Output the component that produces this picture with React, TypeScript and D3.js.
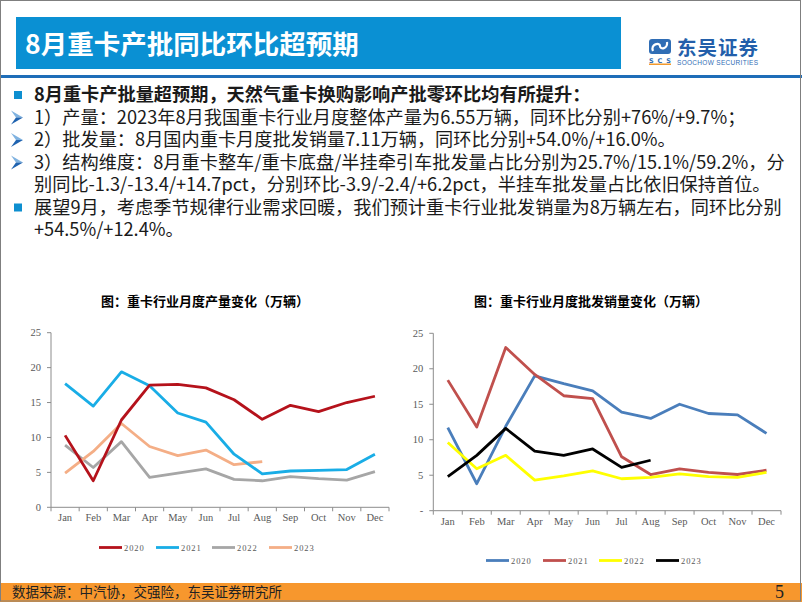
import React from "react";
import * as d3 from "d3";

const months = ["Jan", "Feb", "Mar", "Apr", "May", "Jun", "Jul", "Aug", "Sep", "Oct", "Nov", "Dec"];
const years = ["2020", "2021", "2022", "2023"];

// 重卡行业月度产量（万辆）
const prod2020 = [10.3, 3.8, 12.5, 17.5, 17.6, 17.1, 15.4, 12.6, 14.6, 13.7, 15.0, 15.9];
const prod2021 = [17.7, 14.5, 19.4, 17.4, 13.5, 12.2, 7.6, 4.8, 5.2, 5.3, 5.4, 7.6];
const prod2022 = [8.9, 5.7, 9.4, 4.3, 4.9, 5.5, 4.0, 3.8, 4.4, 4.1, 3.9, 5.1];
const prod2023 = [4.9, 8.0, 12.0, 8.7, 7.4, 8.2, 6.1, 6.55];

// 重卡行业月度批发销量（万辆）
const sales2020 = [11.7, 3.8, 11.9, 19.0, 17.9, 16.9, 13.9, 13.0, 15.0, 13.7, 13.5, 10.9];
const sales2021 = [18.4, 11.8, 23.0, 19.2, 16.2, 15.8, 7.6, 5.1, 5.9, 5.4, 5.1, 5.7];
const sales2022 = [9.6, 5.9, 7.8, 4.3, 4.9, 5.6, 4.5, 4.7, 5.2, 4.8, 4.7, 5.4];
const sales2023 = [4.8, 7.8, 11.6, 8.4, 7.8, 8.7, 6.1, 7.11];

const yTicks = [0, 5, 10, 15, 20, 25];
const prodTickLabels = ["0", "5", "10", "15", "20", "25"];
const salesTickLabels = ["-", "5", "10", "15", "20", "25"];

const prodColors = ["#B5121B", "#19ADE6", "#A6A6A6", "#F4AE86"];
const salesColors = ["#4A7EBB", "#C0504D", "#FFFF00", "#000000"];

const bodyLines = [
  { kind: "sq", text: "8月重卡产批量超预期，天然气重卡换购影响产批零环比均有所提升：", bold: true },
  { kind: "ar", text: "1）产量：2023年8月我国重卡行业月度整体产量为6.55万辆，同环比分别+76%/+9.7%；" },
  { kind: "ar", text: "2）批发量：8月国内重卡月度批发销量7.11万辆，同环比分别+54.0%/+16.0%。" },
  { kind: "ar", text: "3）结构维度：8月重卡整车/重卡底盘/半挂牵引车批发量占比分别为25.7%/15.1%/59.2%，分" },
  { kind: "", text: "别同比-1.3/-13.4/+14.7pct，分别环比-3.9/-2.4/+6.2pct，半挂车批发量占比依旧保持首位。" },
  { kind: "sq", text: "展望9月，考虑季节规律行业需求回暖，我们预计重卡行业批发销量为8万辆左右，同环比分别" },
  { kind: "", text: "+54.5%/+12.4%。" },
];

const serif = "'Liberation Serif', 'Times New Roman', serif";
const cjk = "'Noto Sans CJK SC', 'Noto Sans', sans-serif";

type ChartProps = {
  title: string;
  titleX: number;
  x0: number;
  x1: number;
  yBottom: number;
  yTop: number;
  series: number[][];
  colors: string[];
  tickLabels: string[];
  xLabelY: number;
  legendY: number;
  legendX: number[];
  order: number[];
};

function LineChart(p: ChartProps) {
  const x = d3.scaleBand<string>().domain(months).range([p.x0, p.x1]);
  const y = d3.scaleLinear().domain([0, 25]).range([p.yBottom, p.yTop]);
  const bw = x.bandwidth();
  const line = d3
    .line<number>()
    .x((_, i) => (x(months[i]) as number) + bw / 2)
    .y((d) => y(d));
  const axisColor = "#8C8C8C";
  const boundaries = d3.range(13).map((i) => p.x0 + i * bw);
  return (
    <g>
      <text x={p.titleX} y={306} textAnchor="middle" fontFamily={cjk} fontWeight="bold" fontSize={13} fill="#000">
        {p.title}
      </text>
      <line x1={p.x0} x2={p.x0} y1={y(25)} y2={y(0)} stroke={axisColor} strokeWidth={1} />
      {yTicks.map((t, i) => (
        <g key={t}>
          <line x1={p.x0 - 4} x2={p.x0} y1={y(t)} y2={y(t)} stroke={axisColor} />
          <text x={p.x0 - 10} y={y(t) + 3.5} textAnchor="end" fontFamily={serif} fontSize={10.5} fill="#595959">
            {p.tickLabels[i]}
          </text>
        </g>
      ))}
      <line x1={p.x0} x2={p.x1} y1={y(0)} y2={y(0)} stroke={axisColor} />
      {boundaries.map((b, i) => (
        <line key={i} x1={b} x2={b} y1={y(0)} y2={y(0) + 4} stroke={axisColor} />
      ))}
      {months.map((m) => (
        <text key={m} x={(x(m) as number) + bw / 2} y={p.xLabelY} textAnchor="middle" fontFamily={serif} fontSize={10.5} fill="#595959">
          {m}
        </text>
      ))}
      {p.order.map((si) => (
        <path key={si} d={line(p.series[si]) || ""} fill="none" stroke={p.colors[si]} strokeWidth={2.8} strokeLinejoin="round" />
      ))}
      {years.map((yr, i) => (
        <g key={yr}>
          <line x1={p.legendX[i]} x2={p.legendX[i] + 23} y1={p.legendY} y2={p.legendY} stroke={p.colors[i]} strokeWidth={2.8} />
          <text x={p.legendX[i] + 25} y={p.legendY + 3} fontFamily={serif} fontSize={8.5} letterSpacing={0.9} fill="#595959">
            {yr}
          </text>
        </g>
      ))}
    </g>
  );
}

function Arrow({ cy }: { cy: number }) {
  return (
    <g>
      <path d={`M11,${cy - 7} L23,${cy} L16,${cy} Z`} fill="#7FB2E0" />
      <path d={`M11,${cy + 7} L23,${cy} L16,${cy} Z`} fill="#1F63B0" />
    </g>
  );
}

export default function App() {
  const lineStart = 95;
  const lineGap = 22.5;
  return (
    <svg width={802} height={602} style={{ position: "absolute", left: 0, top: 0 }} xmlns="http://www.w3.org/2000/svg">
      <rect x={0} y={0} width={802} height={602} fill="#fff" />
      <rect x={16} y={17} width={605} height={52} fill="#0A90D3" />
      <text x={25} y={54} fontFamily={cjk} fontWeight="bold" fontSize={26.5} fill="#fff">
        8月重卡产批同比环比超预期
      </text>
      <rect x={0} y={75} width={802} height={3} fill="#1E6DB8" />
      <g>
        <rect x={649} y={39} width={22} height={15} rx={3} fill="#2F6DB5" />
        <path d="M653,51 C650,44 660,42 660,46 C660,50 668,49 667,42" fill="none" stroke="#fff" strokeWidth={2.2} />
        <text x={649} y={63} fontFamily="'DejaVu Sans', sans-serif" fontWeight="bold" fontSize={6.5} fill="#2F6DB5" textLength={22}>
          SCS
        </text>
        <rect x={649} y={63.5} width={22} height={1.5} fill="#F29A2E" />
        <text x={677} y={54.5} fontFamily={cjk} fontWeight="bold" fontSize={19.5} fill="#235FAA" textLength={81}>
          东吴证券
        </text>
        <text x={677} y={64.5} fontFamily="'Liberation Sans', sans-serif" fontSize={6.5} fill="#2F6DB5" textLength={81}>
          SOOCHOW SECURITIES
        </text>
      </g>
      {bodyLines.map((l, i) => {
        const cy = lineStart + i * lineGap;
        return (
          <g key={i}>
            {l.kind === "sq" && <rect x={14} y={cy - 4} width={8} height={8} fill="#0E8FD0" />}
            {l.kind === "ar" && <Arrow cy={cy} />}
            <text x={34} y={cy + 6.3} fontFamily={cjk} fontSize={18.2} fontWeight={l.bold ? "bold" : "normal"} fill="#1A1A1A">
              {l.text}
            </text>
          </g>
        );
      })}
      <LineChart
        title="图：重卡行业月度产量变化（万辆）"
        titleX={205}
        x0={51}
        x1={389}
        yBottom={507.3}
        yTop={332.7}
        series={[prod2020, prod2021, prod2022, prod2023]}
        colors={prodColors}
        tickLabels={prodTickLabels}
        xLabelY={521}
        legendY={547.5}
        legendX={[99, 156, 212, 269]}
        order={[2, 3, 1, 0]}
      />
      <LineChart
        title="图：重卡行业月度批发销量变化（万辆）"
        titleX={591}
        x0={433.3}
        x1={781}
        yBottom={510.7}
        yTop={333.3}
        series={[sales2020, sales2021, sales2022, sales2023]}
        colors={salesColors}
        tickLabels={salesTickLabels}
        xLabelY={525}
        legendY={560.5}
        legendX={[486, 543, 599, 656]}
        order={[0, 1, 2, 3]}
      />
      <rect x={0} y={583} width={802} height={19} fill="#F7972D" />
      <text x={12} y={597} fontFamily={cjk} fontSize={13.5} fill="#222">
        数据来源：中汽协，交强险，东吴证券研究所
      </text>
      <text x={784} y={598} textAnchor="end" fontFamily={serif} fontSize={18} fill="#222">
        5
      </text>
      <rect x={0.5} y={0.5} width={800} height={600.5} fill="none" stroke="#7F7F7F" strokeWidth={1} />
    </svg>
  );
}
